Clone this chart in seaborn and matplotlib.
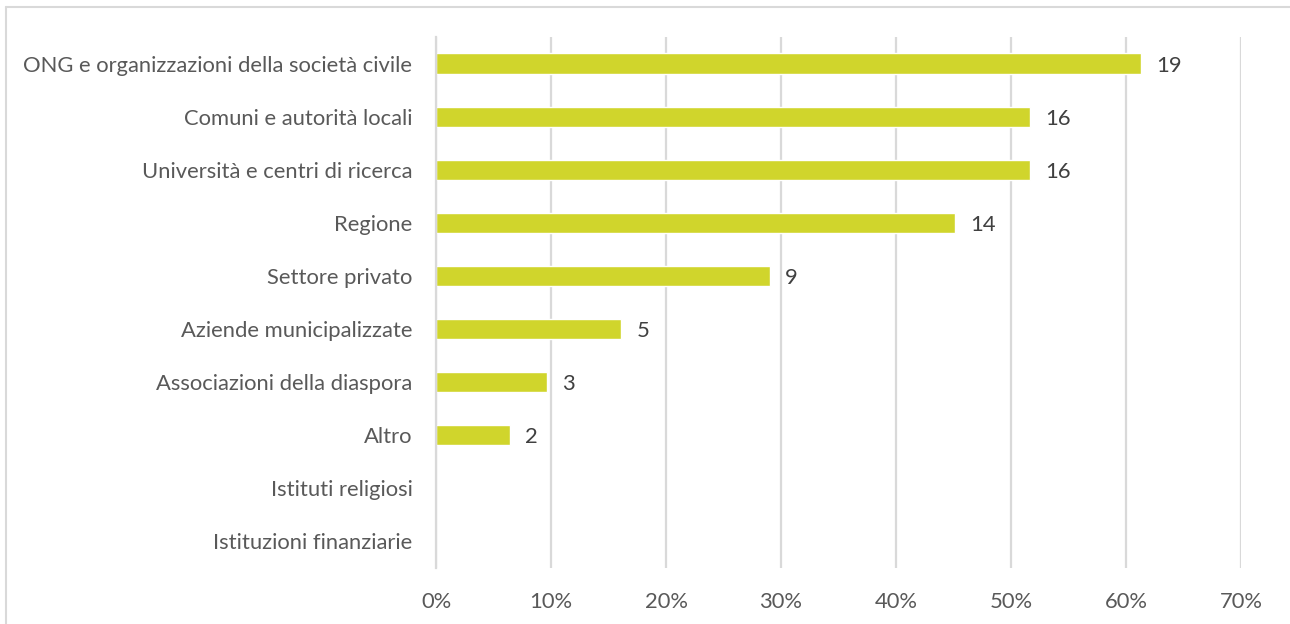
import matplotlib
matplotlib.use("Agg")
import matplotlib.pyplot as plt
from matplotlib.lines import Line2D
from matplotlib.ticker import PercentFormatter
import seaborn as sns
import pandas as pd

# Survey responses: number of respondents naming each type of partner
categories = [
    "ONG e organizzazioni della società civile",
    "Comuni e autorità locali",
    "Università e centri di ricerca",
    "Regione",
    "Settore privato",
    "Aziende municipalizzate",
    "Associazioni della diaspora",
    "Altro",
    "Istituti religiosi",
    "Istituzioni finanziarie",
]
counts = [19, 16, 16, 14, 9, 5, 3, 2, 0, 0]
respondents = 31
x_ticks = [0, 10, 20, 30, 40, 50, 60, 70]

df = pd.DataFrame({"categoria": categories, "n": counts})
df["quota"] = df["n"] / respondents * 100

sns.set_theme(style="white")
plt.rcParams["font.family"] = ["Lato", "DejaVu Sans"]

TEXT = "#595959"
BAR = "#D0D52C"
GRID = "#D9D9D9"
FS = 15.8

fig = plt.figure(figsize=(12.9, 6.24), dpi=100)
ax = fig.add_axes([436 / 1290, 1 - 568 / 624, (1241 - 436) / 1290, (568 - 37) / 624])

sns.barplot(data=df, y="categoria", x="quota", color=BAR, saturation=1,
            width=0.38, orient="h", ax=ax)

ax.set_xlim(0, 70)
ax.set_ylim(len(categories) - 0.5, -0.5)
ax.set_xticks(x_ticks)
ax.xaxis.set_major_formatter(PercentFormatter(decimals=0))
ax.grid(axis="x", color=GRID, linewidth=1.6)
ax.set_axisbelow(True)
for side in ["top", "right", "bottom"]:
    ax.spines[side].set_visible(False)
ax.spines["left"].set_color(GRID)
ax.spines["left"].set_linewidth(1.6)
ax.set_xlabel("")
ax.set_ylabel("")
ax.tick_params(axis="both", length=0, labelsize=FS, labelcolor=TEXT)
ax.tick_params(axis="y", pad=17)
ax.tick_params(axis="x", pad=17)

# value labels at bar ends (only for non-empty bars)
for i, (q, n) in enumerate(zip(df["quota"], df["n"])):
    if n > 0:
        ax.annotate(str(n), (q, i), xytext=(11, -1.5), textcoords="offset points",
                    va="center", ha="left", fontsize=FS, color="#404040")

# light frame around the chart area (top and left edges)
fig.add_artist(Line2D([6 / 1290, 1.0], [1 - 7 / 624, 1 - 7 / 624],
                      transform=fig.transFigure, color=GRID, linewidth=1.5))
fig.add_artist(Line2D([6 / 1290, 6 / 1290], [0.0, 1 - 7 / 624],
                      transform=fig.transFigure, color=GRID, linewidth=1.5))

fig.savefig("out.png", dpi=100, facecolor="white")
